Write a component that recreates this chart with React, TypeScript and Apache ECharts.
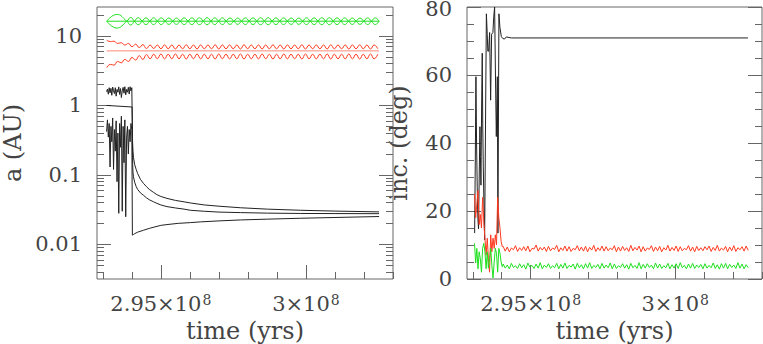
import React, { useEffect, useRef } from 'react';
import * as echarts from 'echarts';

// ---------- axes ----------
const T_MIN = 2.928e8;
const T_MAX = 3.03e8;
const xMajorTicks = [2.95e8, 3.0e8];
const xTickMantissa = ['2.95×10', '3×10'];
const xTickExponent = ['8', '8'];
const xMinorTicks = [2.93e8, 2.94e8, 2.96e8, 2.97e8, 2.98e8, 2.99e8, 3.01e8, 3.02e8, 3.03e8];

const A_MIN = 0.00318;
const A_MAX = 26.1;
const aMajorTicks = [0.01, 0.1, 1, 10];
const aTickLabels = ['0.01', '0.1', '1', '10'];
const aMinorTicks = [
  0.004, 0.005, 0.006, 0.007, 0.008, 0.009,
  0.02, 0.03, 0.04, 0.05, 0.06, 0.07, 0.08, 0.09,
  0.2, 0.3, 0.4, 0.5, 0.6, 0.7, 0.8, 0.9,
  2, 3, 4, 5, 6, 7, 8, 9, 20,
];

const INC_MIN = 0;
const INC_MAX = 80;
const incMajorTicks = [0, 20, 40, 60, 80];
const incTickLabels = ['0', '20', '40', '60', '80'];
const incMinorTicks = [5, 10, 15, 25, 30, 35, 45, 50, 55, 65, 70, 75];

const xTitle = 'time (yrs)';
const aTitle = 'a (AU)';
const incTitle = 'inc. (deg)';

// sampling grid helper (sample times only)
const steps = (start: number, step: number, n: number) =>
  Array.from({ length: n }, (_, i) => start + i * step);

// ---------- left panel: semi-major axis / peri / apo ----------
// green planet (outer)
const greenAT = [2.93136e8, 3.0252e8];
const greenAV = [16.3, 16.3];
const greenEnvT = [2.93136e8, 2.93482e8, ...steps(2.93828e8, 0.1317e6, 67)];
const greenQV = [
  16.3, 20.4, 16.3,
  14.4, 16.3, 18.3, 16.3, 14.6, 16.3, 18.2, 16.3, 14.6, 16.3, 18.1, 16.3, 14.7, 16.3,
  18.2, 16.3, 14.6, 16.3, 18.3, 16.3, 14.5, 16.3, 18.2, 16.3, 14.6, 16.3, 18.1, 16.3,
  14.7, 16.3, 18.2, 16.3, 14.6, 16.3, 18.3, 16.3, 14.5, 16.3, 18.2, 16.3, 14.6, 16.3,
  18.1, 16.3, 14.7, 16.3, 18.2, 16.3, 14.6, 16.3, 18.3, 16.3, 14.5, 16.3, 18.2, 16.3,
  14.6, 16.3, 18.1, 16.3, 14.7, 16.3, 18.2, 16.3, 14.6, 16.3,
];
const greenqV = [
  16.3, 13.0, 16.3,
  18.45, 16.3, 14.52, 16.3, 18.2, 16.3, 14.6, 16.3, 18.2, 16.3, 14.68, 16.3, 18.07, 16.3,
  14.6, 16.3, 18.2, 16.3, 14.52, 16.3, 18.32, 16.3, 14.6, 16.3, 18.2, 16.3, 14.68, 16.3,
  18.07, 16.3, 14.6, 16.3, 18.2, 16.3, 14.52, 16.3, 18.32, 16.3, 14.6, 16.3, 18.2, 16.3,
  14.68, 16.3, 18.07, 16.3, 14.6, 16.3, 18.2, 16.3, 14.52, 16.3, 18.32, 16.3, 14.6, 16.3,
  18.2, 16.3, 14.68, 16.3, 18.07, 16.3, 14.6, 16.3, 18.2, 16.3,
];

// red planet (middle)
const redAT = [2.93136e8, 3.0252e8];
const redAV = [6.1, 6.1];
const redEnvT = steps(2.93136e8, 0.1245e6, 76);
const redQV = [
  8.7, 8.3, 8.4, 7.8, 8.0, 7.4, 7.8, 7.0, 7.6, 6.8, 7.5, 6.6, 7.4, 6.6, 7.4, 6.55,
  7.42, 6.55, 7.4, 6.5, 7.4, 6.55, 7.45, 6.55, 7.4, 6.5, 7.42, 6.55, 7.4, 6.55,
  7.45, 6.5, 7.4, 6.55, 7.42, 6.55, 7.4, 6.5, 7.45, 6.55, 7.4, 6.55, 7.42, 6.5,
  7.4, 6.55, 7.45, 6.55, 7.4, 6.5, 7.42, 6.55, 7.4, 6.55, 7.45, 6.5, 7.4, 6.55,
  7.42, 6.55, 7.4, 6.5, 7.45, 6.55, 7.4, 6.55, 7.42, 6.5, 7.4, 6.55, 7.45, 6.55,
  7.4, 6.5, 7.42, 6.55,
];
const redqV = [
  3.5, 3.9, 3.8, 4.3, 4.1, 4.6, 4.3, 4.9, 4.5, 5.2, 4.6, 5.4, 4.7, 5.45, 4.7, 5.5,
  4.68, 5.45, 4.7, 5.5, 4.7, 5.45, 4.66, 5.45, 4.7, 5.5, 4.68, 5.45, 4.7, 5.45,
  4.66, 5.5, 4.7, 5.45, 4.68, 5.45, 4.7, 5.5, 4.66, 5.45, 4.7, 5.45, 4.68, 5.5,
  4.7, 5.45, 4.66, 5.45, 4.7, 5.5, 4.68, 5.45, 4.7, 5.45, 4.66, 5.5, 4.7, 5.45,
  4.68, 5.45, 4.7, 5.5, 4.66, 5.45, 4.7, 5.45, 4.68, 5.5, 4.7, 5.45, 4.66, 5.45,
  4.7, 5.5, 4.68, 5.45,
];

// black planet (inner)
const blackAT = [
  2.9313e8, 2.9401e8, 2.9403e8, 2.9404e8, 2.94056e8, 2.941e8, 2.9415e8, 2.942e8, 2.943e8,
  2.94402e8, 2.945e8, 2.946e8, 2.9475e8, 2.94865e8, 2.95e8, 2.95211e8, 2.955e8, 2.958e8,
  2.96017e8, 2.965e8, 2.97e8, 2.97745e8, 2.98669e8, 2.9982e8, 3.0097e8, 3.0252e8,
];
const blackAV = [
  1.0, 0.95, 0.14, 0.11, 0.094, 0.078, 0.068, 0.062, 0.055,
  0.051, 0.047, 0.044, 0.041, 0.039, 0.037, 0.035, 0.0335, 0.0322,
  0.031, 0.03, 0.0292, 0.0287, 0.0282, 0.0279, 0.0278, 0.0277,
];
const blackQT = [
  ...steps(2.9313e8, 0.03e6, 30),
  2.94025e8, 2.9404e8, 2.94056e8, 2.941e8, 2.9415e8, 2.942e8, 2.943e8, 2.94402e8, 2.945e8,
  2.946e8, 2.9475e8, 2.94865e8, 2.95e8, 2.95211e8, 2.955e8, 2.958e8, 2.96017e8, 2.965e8,
  2.97e8, 2.97745e8, 2.98669e8, 2.9982e8, 3.0097e8, 3.0252e8,
];
const blackQV = [
  1.57, 1.72, 1.45, 1.8, 1.52, 1.76, 1.4, 1.84, 1.62, 1.48, 1.8, 1.36, 1.7, 1.55, 1.85,
  1.44, 1.75, 1.3, 1.62, 1.82, 1.5, 1.86, 1.42, 1.7, 1.55, 1.82, 1.46, 1.86, 1.62, 1.8,
  0.3, 0.22, 0.18, 0.14, 0.12, 0.105, 0.086, 0.0755, 0.068,
  0.062, 0.056, 0.052, 0.049, 0.046, 0.043, 0.041, 0.0395, 0.037,
  0.0355, 0.0337, 0.0322, 0.031, 0.0302, 0.0294,
];
const blackqT = [
  ...steps(2.9313e8, 0.03e6, 30),
  2.9402e8, 2.94056e8, 2.941e8, 2.942e8, 2.94402e8, 2.946e8, 2.948e8, 2.95e8, 2.95211e8,
  2.956e8, 2.96017e8, 2.96362e8, 2.97e8, 2.97745e8, 2.98669e8, 2.9982e8, 3.0097e8, 3.0252e8,
];
const blackqV = [
  0.42, 0.62, 0.35, 0.55, 0.13, 0.5, 0.3, 0.66, 0.12, 0.45, 0.22, 0.6, 0.08, 0.4, 0.028,
  0.55, 0.25, 0.7, 0.03, 0.5, 0.15, 0.62, 0.025, 0.35, 0.5, 0.2, 0.45, 0.3, 0.55, 0.45,
  0.0136, 0.0139, 0.0143, 0.015, 0.016, 0.017, 0.0179, 0.0188, 0.0193,
  0.0201, 0.0206, 0.0211, 0.0218, 0.0225, 0.0231, 0.0238, 0.0244, 0.0252,
];

// ---------- right panel: inclination ----------
const blackIncT = [
  2.93064e8, 2.93087e8, 2.93109e8, 2.93131e8, 2.93154e8, 2.93176e8, 2.93199e8, 2.93222e8,
  2.93247e8, 2.93265e8, 2.93282e8, 2.93305e8, 2.93327e8, 2.93345e8, 2.93363e8, 2.9339e8,
  2.93409e8, 2.9344e8, 2.9347e8, 2.935e8, 2.9352e8, 2.93548e8, 2.93582e8, 2.93617e8,
  2.93651e8, 2.93696e8, 2.93724e8, 2.93755e8, 2.93784e8, 2.93814e8, 2.93849e8, 2.93869e8,
  2.93904e8, 2.93938e8, 2.93987e8, 2.94042e8, 2.94101e8, 2.9416e8, 2.94333e8, 3.02514e8,
];
const blackIncV = [
  13.5, 35, 59.5, 40, 27, 18, 14.7, 30,
  44.8, 36, 27.6, 50, 66.4, 45, 33, 20,
  11.5, 45, 78, 72, 67, 67, 72.5, 52.6,
  72, 72.5, 77, 80, 60, 41.9, 59.5, 13.5,
  78, 74, 71.3, 70.7, 70.6, 71.2, 70.9, 70.9,
];

const incPreT = steps(2.9306e8, 0.04e6, 25);
const incPostT = steps(2.9405e8, 0.0712e6, 120);
const redIncPre = [
  25, 18, 22, 26, 16, 19, 15, 24, 17, 12, 7, 12, 6, 2, 13, 8, 12, 9, 13, 10, 24, 18, 15, 11, 9.5,
];
const redIncPost = [
  9.6, 8.2, 9.4, 8.0, 9.1, 8.6, 9.8, 8.1, 9.2, 8.4,
  9.5, 8.3, 9.7, 8.0, 9.0, 8.8, 10.0, 8.2, 9.3, 8.5,
  9.4, 8.1, 9.6, 8.3, 9.1, 8.7, 9.9, 8.0, 9.2, 8.4,
  9.7, 8.2, 9.5, 8.1, 9.0, 8.6, 9.8, 8.3, 9.4, 8.2,
  9.6, 8.0, 9.3, 8.5, 9.9, 8.1, 9.2, 8.4, 9.7, 8.2,
  9.5, 8.3, 9.1, 8.6, 9.8, 8.0, 9.4, 8.2, 9.6, 8.4,
  9.2, 8.1, 9.9, 8.3, 9.3, 8.5, 9.7, 8.0, 9.5, 8.2,
  9.1, 8.7, 9.8, 8.1, 9.4, 8.3, 9.6, 8.0, 9.2, 8.5,
  9.9, 8.2, 9.3, 8.4, 9.7, 8.1, 9.5, 8.3, 9.0, 8.6,
  9.8, 8.2, 9.4, 8.0, 9.6, 8.4, 9.2, 8.3, 9.5, 8.6,
  9.7, 8.1, 9.3, 8.4, 9.9, 8.2, 9.1, 8.5, 9.6, 8.0,
  9.4, 8.3, 9.8, 8.1, 9.2, 8.6, 9.5, 8.2, 9.7, 8.4,
];
const greenIncPre = [
  10.5, 4.7, 9, 3, 8, 6, 2, 9, 10.5, 8, 3, 8, 3.2, 6, 9, 4, 0.3, 5, 9, 7.6, 2, 9, 7.6, 5, 3.6,
];
const greenIncPost = [
  4.4, 3.2, 4.1, 3.0, 4.6, 3.4, 3.9, 3.1, 4.5, 3.3,
  4.2, 2.9, 4.7, 3.5, 4.0, 3.1, 4.4, 3.2, 4.8, 3.0,
  4.1, 3.4, 4.5, 3.1, 3.9, 3.3, 4.6, 3.0, 4.3, 3.2,
  4.7, 3.1, 4.0, 3.5, 4.4, 2.9, 4.6, 3.3, 4.2, 3.0,
  4.5, 3.2, 4.8, 3.1, 4.0, 3.4, 4.3, 3.0, 4.6, 3.2,
  4.1, 3.3, 4.7, 3.0, 4.4, 3.1, 3.9, 3.4, 4.5, 3.2,
  4.2, 2.9, 4.6, 3.3, 4.0, 3.1, 4.8, 3.0, 4.3, 3.2,
  4.5, 3.4, 4.1, 3.0, 4.7, 3.2, 4.4, 3.1, 3.9, 3.3,
  4.6, 3.0, 4.2, 3.2, 4.5, 3.1, 4.8, 3.3, 4.0, 3.0,
  4.4, 3.2, 4.6, 3.1, 4.1, 3.4, 4.3, 3.0, 4.5, 3.2,
  4.0, 3.3, 4.7, 3.1, 4.2, 2.9, 4.5, 3.2, 4.6, 3.0,
  4.3, 3.4, 4.1, 3.1, 4.8, 3.2, 4.4, 3.0, 4.2, 3.3,
];

// ---------- styling ----------
const FONT = "'DejaVu Serif', 'Liberation Serif', serif";
const TEXT = '#444';
const FRAME = '#666';
const BLACK = '#222';
const RED = '#ff3a1f';
const GREEN = '#1ee01e';

const zip = (ts: number[], vs: number[]) => vs.map((v, i) => [ts[i], v]);

const line = (
  name: string,
  data: number[][],
  color: string,
  xi: number,
  yi: number,
  smooth: boolean | number = false,
  opacity = 1,
) => ({
  type: 'line',
  name,
  data,
  xAxisIndex: xi,
  yAxisIndex: yi,
  symbol: 'none',
  showSymbol: false,
  smooth,
  silent: true,
  lineStyle: { color, width: 1, opacity },
  itemStyle: { color },
});

const xAxes = (gridIndex: number) => [
  {
    type: 'value',
    gridIndex,
    position: 'bottom',
    min: T_MIN,
    max: T_MAX,
    axisLine: { show: false, onZero: false },
    splitLine: { show: false },
    axisTick: { show: true, inside: true, length: 14, customValues: xMajorTicks, lineStyle: { color: FRAME } },
    axisLabel: {
      customValues: xMajorTicks,
      margin: 14,
      formatter: (v: number) => {
        const i = xMajorTicks.findIndex((t) => Math.abs(t - v) < 1);
        return i < 0 ? '' : `{m|${xTickMantissa[i]}}{e|${xTickExponent[i]}}`;
      },
      rich: {
        m: { fontFamily: FONT, fontSize: 21, color: TEXT },
        e: { fontFamily: FONT, fontSize: 14, color: TEXT, verticalAlign: 'top', padding: [0, 0, 0, 1] },
      },
    },
    name: xTitle,
    nameLocation: 'middle',
    nameGap: 38,
    nameTextStyle: { fontFamily: FONT, fontSize: 24, color: TEXT },
  },
  {
    type: 'value',
    gridIndex,
    position: 'bottom',
    min: T_MIN,
    max: T_MAX,
    axisLine: { show: false, onZero: false },
    splitLine: { show: false },
    axisLabel: { show: false },
    axisTick: { show: true, inside: true, length: 7, customValues: xMinorTicks, lineStyle: { color: FRAME } },
  },
];

const yAxes = (
  gridIndex: number,
  type: string,
  min: number,
  max: number,
  major: number[],
  minor: number[],
  labels: string[],
  title: string,
  nameGap: number,
) => {
  const base = {
    type,
    gridIndex,
    min,
    max,
    ...(type === 'log' ? { logBase: 10 } : {}),
    axisLine: { show: false, onZero: false },
    splitLine: { show: false },
  };
  return [
    {
      ...base,
      position: 'left',
      axisTick: { show: true, inside: true, length: 14, customValues: major, lineStyle: { color: FRAME } },
      axisLabel: {
        customValues: major,
        margin: 15,
        fontFamily: FONT,
        fontSize: 21,
        lineHeight: 14,
        color: TEXT,
        formatter: (v: number) => {
          const i = major.findIndex((t) => Math.abs(t - v) <= Math.abs(t) * 1e-6 + 1e-9);
          if (i < 0) return '';
          // the topmost label sits at the frame's upper edge: nudge it a little inside the page
          return Math.abs(major[i] - max) < 1e-9 ? `{t|${labels[i]}}` : labels[i];
        },
        rich: {
          t: { fontFamily: FONT, fontSize: 21, lineHeight: 14, color: TEXT, padding: [4, 0, 0, 0] },
        },
      },
      name: title,
      nameLocation: 'middle',
      nameGap,
      nameTextStyle: { fontFamily: FONT, fontSize: 24, color: TEXT },
    },
    {
      ...base,
      position: 'left',
      axisLabel: { show: false },
      axisTick: { show: true, inside: true, length: 7, customValues: minor, lineStyle: { color: FRAME } },
    },
    {
      ...base,
      position: 'right',
      axisLabel: { show: false },
      axisTick: { show: true, inside: true, length: 14, customValues: major, lineStyle: { color: FRAME } },
    },
    {
      ...base,
      position: 'right',
      axisLabel: { show: false },
      axisTick: { show: true, inside: true, length: 7, customValues: minor, lineStyle: { color: FRAME } },
    },
  ];
};

export default function App() {
  const ref = useRef<HTMLDivElement>(null);

  useEffect(() => {
    document.body.style.margin = '0';
    if (!ref.current) return;
    const chart = echarts.init(ref.current, null, { renderer: 'svg' });
    const gridBase = {
      top: 7,
      height: 272,
      show: true,
      borderColor: FRAME,
      borderWidth: 1,
      backgroundColor: 'transparent',
      containLabel: false,
      outerBoundsMode: 'none',
    };
    chart.setOption({
      animation: false,
      backgroundColor: '#fff',
      grid: [
        { ...gridBase, left: 97, width: 296 },
        { ...gridBase, left: 467, width: 295 },
      ],
      xAxis: [...xAxes(0), ...xAxes(1)],
      yAxis: [
        ...yAxes(0, 'log', A_MIN, A_MAX, aMajorTicks, aMinorTicks, aTickLabels, aTitle, 72),
        ...yAxes(1, 'value', INC_MIN, INC_MAX, incMajorTicks, incMinorTicks, incTickLabels, incTitle, 56),
      ],
      series: [
        line('green a', zip(greenAT, greenAV), GREEN, 0, 0),
        line('green Q', zip(greenEnvT, greenQV), GREEN, 0, 0, 0.5),
        line('green q', zip(greenEnvT, greenqV), GREEN, 0, 0, 0.5),
        line('red a', zip(redAT, redAV), RED, 0, 0, false, 0.6),
        line('red Q', zip(redEnvT, redQV), RED, 0, 0, 0.5),
        line('red q', zip(redEnvT, redqV), RED, 0, 0, 0.5),
        line('black a', zip(blackAT, blackAV), BLACK, 0, 0),
        line('black Q', zip(blackQT, blackQV), BLACK, 0, 0),
        line('black q', zip(blackqT, blackqV), BLACK, 0, 0),
        line('black inc', zip(blackIncT, blackIncV), BLACK, 2, 4),
        line('red inc', zip([...incPreT, ...incPostT], [...redIncPre, ...redIncPost]), RED, 2, 4),
        line('green inc', zip([...incPreT, ...incPostT], [...greenIncPre, ...greenIncPost]), GREEN, 2, 4),
      ],
    });
    return () => chart.dispose();
  }, []);

  return (
    <div
      ref={ref}
      style={{ position: 'absolute', left: 0, top: 0, width: 763, height: 344 }}
    />
  );
}
